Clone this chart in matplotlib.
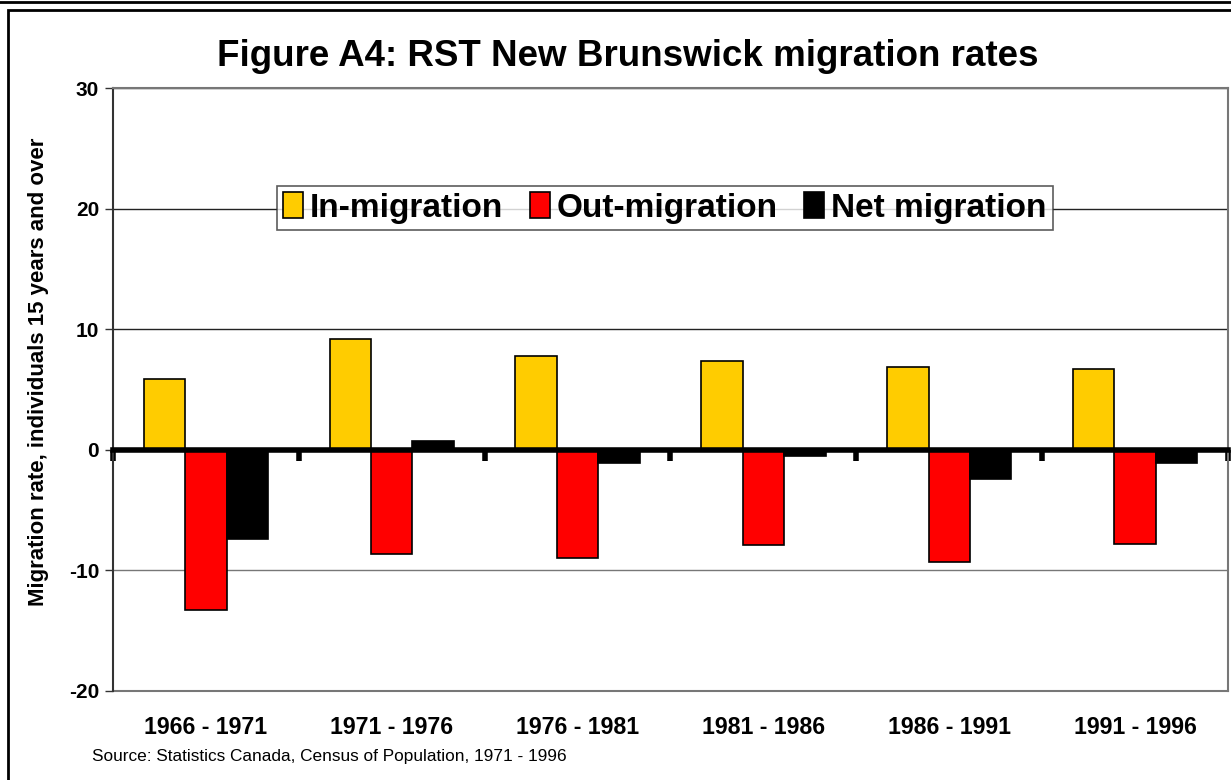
import numpy as np
import matplotlib
matplotlib.use("Agg")
import matplotlib.pyplot as plt
from matplotlib.patches import Rectangle
from matplotlib.lines import Line2D

plt.rcParams['font.family'] = ['Liberation Sans', 'DejaVu Sans']

periods = ["1966 - 1971", "1971 - 1976", "1976 - 1981",
           "1981 - 1986", "1986 - 1991", "1991 - 1996"]
in_migration = [5.9, 9.2, 7.8, 7.4, 6.9, 6.7]
out_migration = [-13.3, -8.6, -9.0, -7.9, -9.3, -7.8]
net_migration = [-7.4, 0.7, -1.1, -0.5, -2.4, -1.1]
y_ticks = [-20, -10, 0, 10, 20, 30]

W, H = 1231, 780
fig = plt.figure(figsize=(W / 100, H / 100), dpi=100)

def fx(px):
    return px / W

def fy(py):
    return 1 - py / H

# outer frame + top strip remnant
fig.add_artist(Rectangle((fx(8), fy(790)), fx(1240), fy(10) - fy(790),
                         transform=fig.transFigure, fill=False, lw=2, ec='black'))
fig.add_artist(Line2D([0, 1], [fy(2), fy(2)], transform=fig.transFigure,
                      lw=2, color='black'))

ax = fig.add_axes([fx(113), fy(691), fx(1228 - 113), fy(88) - fy(691)])

x = np.arange(len(periods))
bw = 0.223
ax.bar(x - bw, in_migration, bw, color='#ffcc00', edgecolor='black', lw=1.2,
       label='In-migration', zorder=3)
ax.bar(x, out_migration, bw, color='#ff0000', edgecolor='black', lw=1.2,
       label='Out-migration', zorder=3)
ax.bar(x + bw, net_migration, bw, color='black', edgecolor='black', lw=1.2,
       label='Net migration', zorder=3)

ax.set_xlim(-0.5, len(periods) - 0.5)
ax.set_ylim(-20, 30)
ax.set_yticks(y_ticks)
ax.set_yticklabels([str(v) for v in y_ticks], fontsize=15, fontweight='bold')
ax.tick_params(axis='y', length=6, width=1, color='#333333', pad=4)

# gridlines
for v in y_ticks:
    if v == 0:
        continue
    ax.axhline(v, color='#222222' if v > 0 else '#777777', lw=1, zorder=1)

# category axis sitting on zero
ax.spines['bottom'].set_position(('data', 0))
ax.spines['bottom'].set_linewidth(4)
ax.spines['bottom'].set_zorder(4)
ax.set_xticks(np.arange(len(periods) + 1) - 0.5)
ax.tick_params(axis='x', length=8, width=4, direction='out', labelbottom=False)

ax.spines['left'].set_color('#333333')
ax.spines['left'].set_linewidth(1.5)
for s in ['top', 'right']:
    ax.spines[s].set_color('#777777')
    ax.spines[s].set_linewidth(1.5)

# period labels along the bottom of the plot area
sec = ax.secondary_xaxis(0)
sec.set_xticks(x)
sec.set_xticklabels(periods, fontsize=16.7, fontweight='bold')
sec.tick_params(length=0, pad=18)
sec.spines['bottom'].set_color('#777777')
sec.spines['bottom'].set_linewidth(1.5)

ax.set_ylabel("Migration rate, individuals 15 years and over",
              fontsize=16, fontweight='bold')
ax.yaxis.set_label_coords(-0.057, 0.529)

fig.text(fx(628), fy(56), "Figure A4: RST New Brunswick migration rates",
         ha='center', va='center', fontsize=26.5, fontweight='bold')

leg = fig.legend(loc='center', bbox_to_anchor=(fx(665), fy(208)), ncol=3,
                 frameon=True, fancybox=False, edgecolor='#333333',
                 prop={'size': 24, 'weight': 'bold'}, handlelength=0.6,
                 handleheight=0.8, handletextpad=0.2, columnspacing=0.8,
                 borderpad=0.2)
leg.get_frame().set_linewidth(1.2)

fig.text(fx(92), fy(757), "Source: Statistics Canada, Census of Population, 1971 - 1996",
         ha='left', va='center', fontsize=12.4)

fig.savefig("out.png", dpi=100)
